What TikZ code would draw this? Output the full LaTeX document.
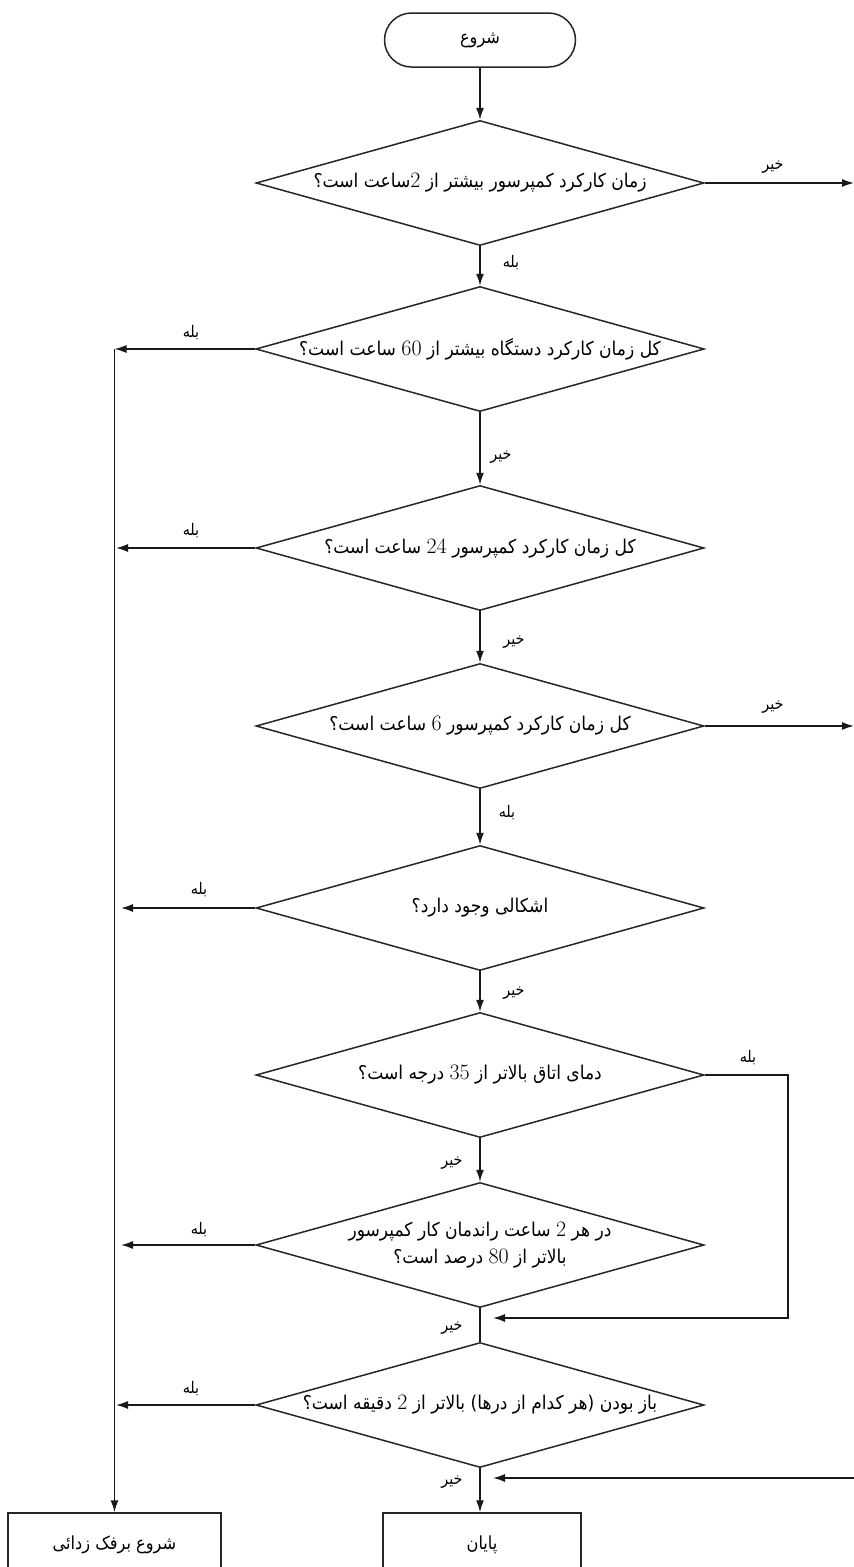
\documentclass[tikz,border=0pt]{standalone}
\usepackage{fontspec}
\usetikzlibrary{shapes.geometric,arrows.meta}
\newfontfamily\fa[Script=Arabic,FakeStretch=0.9]{DejaVu Sans}
\TeXXeTstate=1
\newcommand{\fat}[1]{\beginR #1\endR}
\newcommand{\nm}[1]{\beginL{\rmfamily\fontsize{22}{24}\selectfont #1}\endL{}}
\tikzset{
  ln/.style={draw=black!90, line width=1.5pt},
  arr/.style={ln, -{Latex[length=12pt,width=8pt]}},
  dia/.style={diamond, draw=black!85, line width=1.5pt, minimum width=448pt,
    minimum height=125pt, inner sep=0pt, shape aspect=4,
    font=\fa\fontsize{19}{27}\selectfont, align=center},
  lbl/.style={font=\fa\fontsize{16}{18}\selectfont, inner sep=0pt},
  term/.style={rectangle, rounded corners=27pt, draw=black!85, line width=1.5pt,
    minimum width=191pt, minimum height=54pt, font=\fa\fontsize{18}{20}\selectfont},
  pbox/.style={rectangle, draw=black!85, line width=1.5pt, minimum height=64pt,
    font=\fa\fontsize{18}{20}\selectfont}
}
\begin{document}
\begin{tikzpicture}[x=1pt,y=-1pt]
\useasboundingbox (0,0) rectangle (854,1567);
\clip (0,0) rectangle (854,1567);
\fill[white] (0,0) rectangle (854,1567);

\node[term] (start) at (480,40) {\fat{شروع}};
\node[dia] (d1) at (480,183) {\fat{زمان کارکرد کمپرسور بیشتر از \nm{2}ساعت است؟}};
\node[dia] (d2) at (480,349) {\fat{کل زمان کارکرد دستگاه بیشتر از \nm{60} ساعت است؟}};
\node[dia] (d3) at (480,548) {\fat{کل زمان کارکرد کمپرسور \nm{24} ساعت است؟}};
\node[dia] (d4) at (480,726) {\fat{کل زمان کارکرد کمپرسور \nm{6} ساعت است؟}};
\node[dia] (d5) at (480,908) {\fat{اشکالی وجود دارد؟}};
\node[dia] (d6) at (480,1075) {\fat{دمای اتاق بالاتر از \nm{35} درجه است؟}};
\node[dia, inner xsep=-80pt] (d7) at (480,1245) {\fat{در هر \nm{2} ساعت راندمان کار کمپرسور}\\\fat{بالاتر از \nm{80} درصد است؟}};
\node[dia] (d8) at (480,1405) {\fat{باز بودن (هر کدام از درها) بالاتر از \nm{2} دقیقه است؟}};

\node[pbox, minimum width=213pt] (defrost) at (114.5,1545) {\fat{شروع برفک زدائی}};
\node[pbox, minimum width=198pt] (end) at (482,1545) {\fat{پایان}};

% free ends
\coordinate (e1) at (854,183);
\coordinate (e4) at (854,726);
\coordinate (L2) at (114.5,349);
\coordinate (L3) at (116,548);
\coordinate (L5) at (121,908);
\coordinate (L7) at (121,1245);
\coordinate (L8) at (116,1405);
\coordinate (R6) at (788,1075);
\coordinate (J7) at (493,1318);
\coordinate (in8) at (854,1478);
\coordinate (J8) at (493,1478);

% main flow
\draw[arr] (start) -- (d1);
\draw[arr] (d1) -- (d2);
\draw[arr] (d2) -- (d3);
\draw[arr] (d3) -- (d4);
\draw[arr] (d4) -- (d5);
\draw[arr] (d5) -- (d6);
\draw[arr] (d6) -- (d7);
\draw[ln] (d7) -- (d8);
\draw[arr] (d8.south) -- (d8.south |- end.north);

% exits
\draw[arr] (d1.east) -- (e1);
\draw[arr] (d4.east) -- (e4);
\draw[arr] (d2.west) -- (L2);
\draw[arr] (L2) -- (defrost.north);
\draw[arr] (d3.west) -- (L3);
\draw[arr] (d5.west) -- (L5);
\draw[arr] (d7.west) -- (L7);
\draw[arr] (d8.west) -- (L8);
\draw[arr] (d6.east) -- (R6) |- (J7);
\draw[arr] (in8) -- (J8);

% labels
\node[lbl] (l1r) at (773,167) {\fat{خیر}};
\node[lbl] (l1d) at (511,263) {\fat{بله}};
\node[lbl] (l2l) at (191,333) {\fat{بله}};
\node[lbl] (l2d) at (501,457) {\fat{خیر}};
\node[lbl] (l3l) at (191,531) {\fat{بله}};
\node[lbl] (l3d) at (514,642) {\fat{خیر}};
\node[lbl] (l4r) at (773,707) {\fat{خیر}};
\node[lbl] (l4d) at (507,813) {\fat{بله}};
\node[lbl] (l5l) at (199,890) {\fat{بله}};
\node[lbl] (l5d) at (514,993) {\fat{خیر}};
\node[lbl] (l6r) at (748,1058) {\fat{بله}};
\node[lbl] (l6d) at (452,1163) {\fat{خیر}};
\node[lbl] (l7l) at (199,1230) {\fat{بله}};
\node[lbl] (l7d) at (452,1328) {\fat{خیر}};
\node[lbl] (l8l) at (191,1389) {\fat{بله}};
\node[lbl] (l8d) at (452,1482) {\fat{خیر}};
\end{tikzpicture}
\end{document}
